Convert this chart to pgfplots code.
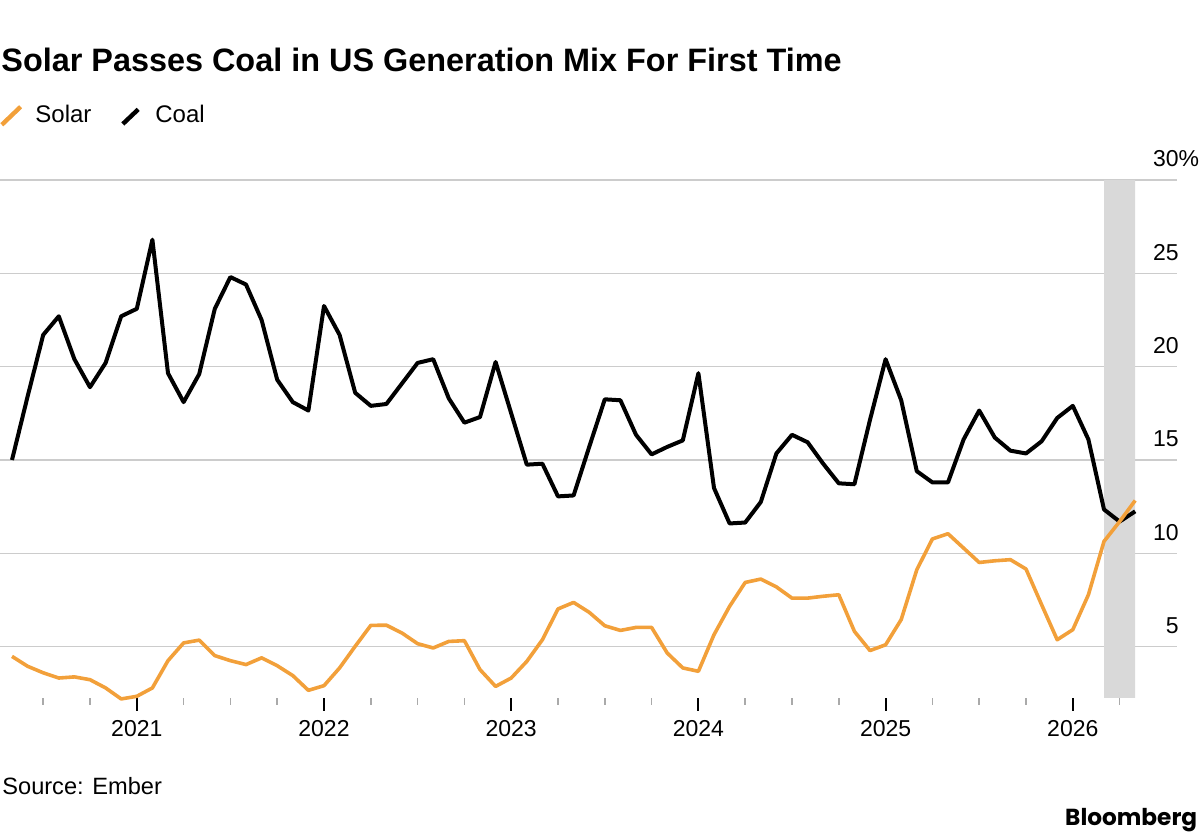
\documentclass[border=0pt]{standalone}
\usepackage{fontspec}
\setmainfont{Liberation Sans}
\newfontfamily\bbg{Poppins}
\usepackage{pgfplots}
\pgfplotsset{compat=1.18}
\usepackage{pgfplotstable}
\definecolor{solarc}{HTML}{F2A03A}
\definecolor{bandc}{HTML}{D9D9D9}
\definecolor{gridc}{HTML}{CCCCCC}
\definecolor{minorc}{HTML}{AAAAAA}

\pgfplotstableread{
i v
0 15.0
1 18.4
2 21.7
3 22.7
4 20.4
5 18.9
6 20.2
7 22.7
8 23.1
9 26.8
10 19.65
11 18.1
12 19.6
13 23.1
14 24.8
15 24.4
16 22.5
17 19.3
18 18.1
19 17.65
20 23.25
21 21.7
22 18.6
23 17.9
24 18.0
25 19.1
26 20.2
27 20.4
28 18.3
29 17.0
30 17.3
31 20.25
32 17.5
33 14.75
34 14.8
35 13.05
36 13.1
37 15.7
38 18.25
39 18.2
40 16.35
41 15.3
42 15.7
43 16.05
44 19.65
45 13.5
46 11.6
47 11.65
48 12.75
49 15.35
50 16.35
51 15.95
52 14.8
53 13.75
54 13.7
55 17.15
56 20.4
57 18.2
58 14.4
59 13.8
60 13.8
61 16.1
62 17.65
63 16.2
64 15.5
65 15.35
66 16.0
67 17.25
68 17.9
69 16.1
70 12.35
71 11.7
72 12.25
}\coal

\pgfplotstableread{
i v
0 4.48
1 3.95
2 3.6
3 3.32
4 3.38
5 3.23
6 2.79
7 2.2
8 2.34
9 2.79
10 4.25
11 5.2
12 5.35
13 4.52
14 4.25
15 4.04
16 4.4
17 3.98
18 3.45
19 2.66
20 2.91
21 3.86
22 5.02
23 6.14
24 6.15
25 5.73
26 5.16
27 4.93
28 5.28
29 5.32
30 3.77
31 2.87
32 3.32
33 4.21
34 5.37
35 7.02
36 7.37
37 6.84
38 6.12
39 5.87
40 6.03
41 6.03
42 4.66
43 3.86
44 3.68
45 5.64
46 7.16
47 8.44
48 8.62
49 8.2
50 7.6
51 7.6
52 7.7
53 7.78
54 5.82
55 4.79
56 5.1
57 6.45
58 9.12
59 10.77
60 11.05
61 10.28
62 9.51
63 9.6
64 9.66
65 9.16
66 7.25
67 5.37
68 5.91
69 7.78
70 10.64
71 11.7
72 12.83
}\solar

\begin{document}
\begin{tikzpicture}
\useasboundingbox (0pt,0pt) rectangle (600pt,420pt);
% title and legend
\node[anchor=base west, inner sep=0pt, font=\fontsize{16.2}{19}\selectfont\bfseries] at (0.5pt,384.2pt) {Solar Passes Coal in US Generation Mix For First Time};
\draw[solarc, line width=2.2pt] (0.9pt,357.6pt) -- (10.3pt,366.6pt);
\node[anchor=base west, inner sep=0pt, font=\fontsize{12}{14}\selectfont] at (17.5pt,358.9pt) {Solar};
\draw[black, line width=2.2pt] (61.4pt,358pt) -- (69.1pt,365.3pt);
\node[anchor=base west, inner sep=0pt, font=\fontsize{12}{14}\selectfont] at (77.5pt,358.9pt) {Coal};
% footer
\node[anchor=base west, inner sep=0pt, font=\fontsize{11.8}{14}\selectfont] at (1pt,22.9pt) {Source: Ember};
\node[anchor=base east, inner sep=0pt, font=\bbg\bfseries\fontsize{11.6}{14}\selectfont] at (598.8pt,7pt) {Bloomberg};
\begin{axis}[
  at={(0pt,71pt)}, anchor=south west,
  scale only axis, width=588.5pt, height=259pt,
  xmin=-0.769, xmax=74.68, ymin=2.25, ymax=30,
  clip=false,
  axis line style={draw=none},
  xtick pos=left,
  xtick={8,20,32,44,56,68},
  xticklabels={2021,2022,2023,2024,2025,2026},
  minor xtick={2,5,11,14,17,23,26,29,35,38,41,47,50,53,59,62,65,71},
  tick align=outside,
  major tick length=6.5pt, minor tick length=3.5pt,
  xtick style={black, line width=1pt},
  minor x tick style={minorc, line width=0.8pt},
  ytick={5,10,15,20,25,30},
  yticklabels={5,10,15,20,25,30\rlap{\%}},
  ytick style={draw=none},
  ymajorgrids, grid style={gridc, line width=0.6pt},
  yticklabel pos=right,
  yticklabel style={anchor=base east, inner sep=0pt, xshift=-5.5pt, yshift=6.5pt, font=\fontsize{11.5}{13}\selectfont},
  xticklabel style={anchor=north, inner sep=0pt, yshift=-4.5pt, font=\fontsize{11.5}{13}\selectfont},
  /pgf/number format/assume math mode=true,
]
\addplot[draw=none, fill=bandc] coordinates {(70,2.25) (72,2.25) (72,30) (70,30) (70,2.25)};
\addplot[black, line width=2pt, line join=round] table[x=i, y=v] {\coal};
\addplot[solarc, line width=1.8pt, line join=round] table[x=i, y=v] {\solar};
\end{axis}
\end{tikzpicture}
\end{document}
